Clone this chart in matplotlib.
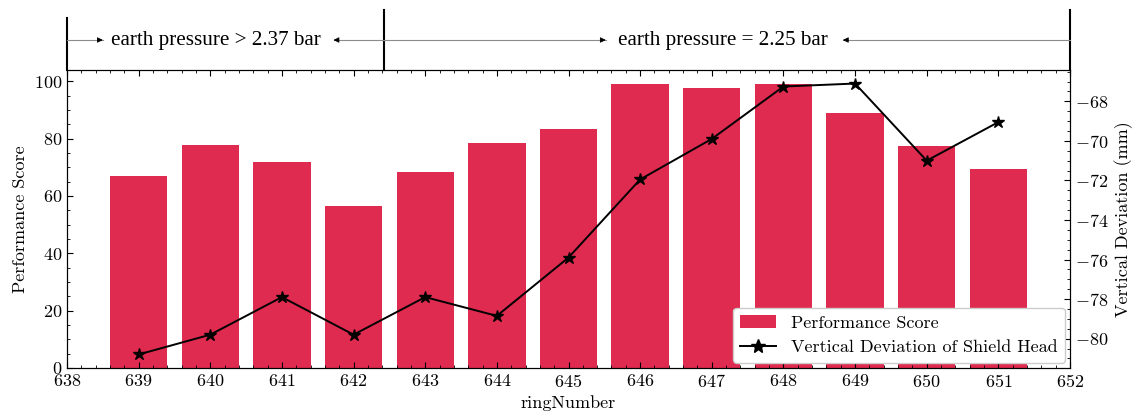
import matplotlib
matplotlib.use("Agg")
import matplotlib.pyplot as plt
from matplotlib.patches import Patch
from matplotlib.lines import Line2D

ring_numbers = [639, 640, 641, 642, 643, 644, 645, 646, 647, 648, 649, 650, 651]
performance_score = [67.0, 77.8, 71.8, 56.5, 68.3, 78.4, 83.2, 99.0, 97.6, 99.0, 88.9, 77.4, 69.3]
vertical_deviation = [-80.8, -79.8, -77.9, -79.8, -77.9, -78.85, -75.9, -71.95, -69.9, -67.25, -67.1, -71.0, -69.05]
region_labels = ["earth pressure > 2.37 bar", "earth pressure = 2.25 bar"]

plt.rcParams.update({
    "font.family": "cmr10",
    "mathtext.fontset": "cm",
    "axes.formatter.use_mathtext": True,
    "font.size": 13,
    "xtick.direction": "in",
    "ytick.direction": "in",
    "xtick.top": True,
    "xtick.minor.visible": True,
    "ytick.minor.visible": True,
    "xtick.major.size": 4,
    "xtick.minor.size": 2,
    "ytick.major.size": 4,
    "ytick.minor.size": 2,
    "axes.linewidth": 0.8,
})

fig = plt.figure(figsize=(11.35, 4.13), dpi=100)
L, R = 67 / 1135, 1070 / 1135
B, T = (413 - 368) / 413, (413 - 70) / 413
ax = fig.add_axes([L, B, R - L, T - B])

bar_color = "crimson"
ax.bar(ring_numbers, performance_score, width=0.8, color=bar_color, alpha=0.9, zorder=1)
ax.set_xlim(638, 652)
ax.set_xticks(range(638, 653))
ax.set_ylabel("Performance Score")
ax.set_xlabel("ringNumber")
ax.tick_params(axis="y", which="both", right=False)

ax2 = ax.twinx()
ax2.plot(ring_numbers, vertical_deviation, color="black", marker="*", markersize=9, lw=1.4)
ax2.set_ylabel("Vertical Deviation (mm)")
ax2.tick_params(axis="y", which="both", direction="in")
ax2.set_yticks([-80, -78, -76, -74, -72, -70, -68])

handles = [Patch(facecolor=bar_color, alpha=0.9, label="Performance Score"),
           Line2D([0], [0], color="black", marker="*", markersize=10, lw=1.4,
                  label="Vertical Deviation of Shield Head")]
ax2.legend(handles=handles, loc="lower right", frameon=True, fancybox=True,
           edgecolor="0.8", framealpha=1.0, fontsize=13, borderaxespad=0.3,
           handlelength=2.0)

# top annotation strip
axt = fig.add_axes([L, T, R - L, 60 / 413])
axt.set_xlim(638, 652)
axt.set_ylim(0, 1)
axt.axis("off")
lc = "black"
axt.plot([638, 638], [0, 0.87], color=lc, lw=1.5, clip_on=False)
axt.plot([642.42, 642.42], [0, 1.0], color=lc, lw=1.5, clip_on=False)
axt.plot([652, 652], [0, 1.0], color=lc, lw=1.5, clip_on=False)
yarr = 0.5
segments = [(638, 638.5), (642.42, 641.72), (642.42, 645.52), (652, 648.83)]
hp = dict(arrowstyle="-|>", color="black", lw=0.6, mutation_scale=8, shrinkA=0, shrinkB=0)
for x0, x1 in segments:
    axt.plot([x0, x1], [yarr, yarr], color="0.55", lw=0.8, clip_on=False)
    d = 0.05 if x1 > x0 else -0.05
    axt.annotate("", xy=(x1, yarr), xytext=(x1 - d, yarr), arrowprops=hp)
axt.text(640.08, yarr, region_labels[0], ha="center", va="center",
         fontfamily="Liberation Serif", fontsize=15.2)
axt.text(647.16, yarr, region_labels[1], ha="center", va="center",
         fontfamily="Liberation Serif", fontsize=15.2)

fig.savefig("out.png", dpi=100)
